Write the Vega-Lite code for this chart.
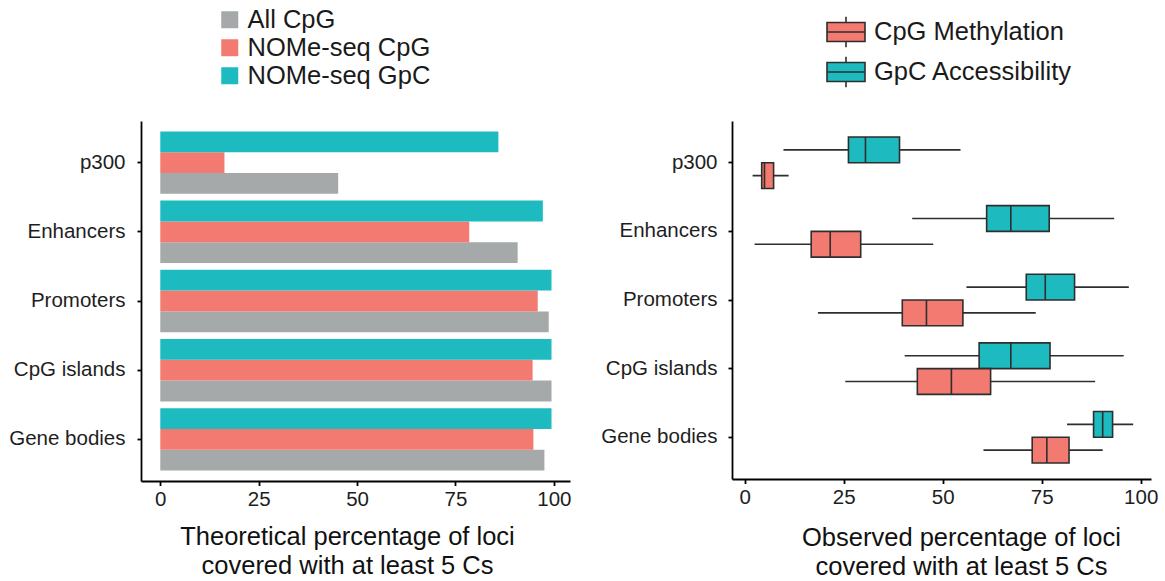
{
  "$schema": "https://vega.github.io/schema/vega-lite/v6.json",
  "background": "white",
  "padding": {"left": 8, "top": 7, "right": 4, "bottom": 2},
  "datasets": {
    "coverage": [
      {"region": "p300", "type": "All CpG", "pct": 45.2},
      {"region": "p300", "type": "NOMe-seq CpG", "pct": 16.3},
      {"region": "p300", "type": "NOMe-seq GpC", "pct": 85.9},
      {"region": "Enhancers", "type": "All CpG", "pct": 90.8},
      {"region": "Enhancers", "type": "NOMe-seq CpG", "pct": 78.5},
      {"region": "Enhancers", "type": "NOMe-seq GpC", "pct": 97.2},
      {"region": "Promoters", "type": "All CpG", "pct": 98.7},
      {"region": "Promoters", "type": "NOMe-seq CpG", "pct": 95.9},
      {"region": "Promoters", "type": "NOMe-seq GpC", "pct": 99.4},
      {"region": "CpG islands", "type": "All CpG", "pct": 99.4},
      {"region": "CpG islands", "type": "NOMe-seq CpG", "pct": 94.6},
      {"region": "CpG islands", "type": "NOMe-seq GpC", "pct": 99.4},
      {"region": "Gene bodies", "type": "All CpG", "pct": 97.6},
      {"region": "Gene bodies", "type": "NOMe-seq CpG", "pct": 94.8},
      {"region": "Gene bodies", "type": "NOMe-seq GpC", "pct": 99.4}
    ],
    "observed": [
      {"region": "p300", "assay": "GpC Accessibility", "low": 9.8, "q1": 26.2, "median": 30.5, "q3": 39.1, "high": 54.5},
      {"region": "p300", "assay": "CpG Methylation", "low": 2.0, "q1": 4.3, "median": 5.0, "q3": 7.3, "high": 11.1},
      {"region": "Enhancers", "assay": "GpC Accessibility", "low": 42.3, "q1": 61.1, "median": 67.2, "q3": 76.9, "high": 93.3},
      {"region": "Enhancers", "assay": "CpG Methylation", "low": 2.5, "q1": 16.8, "median": 21.6, "q3": 29.3, "high": 47.6},
      {"region": "Promoters", "assay": "GpC Accessibility", "low": 56.0, "q1": 71.1, "median": 75.9, "q3": 83.3, "high": 97.0},
      {"region": "Promoters", "assay": "CpG Methylation", "low": 18.5, "q1": 39.8, "median": 45.9, "q3": 55.1, "high": 73.5},
      {"region": "CpG islands", "assay": "GpC Accessibility", "low": 40.4, "q1": 59.2, "median": 67.2, "q3": 77.1, "high": 95.7},
      {"region": "CpG islands", "assay": "CpG Methylation", "low": 25.4, "q1": 43.6, "median": 52.2, "q3": 62.1, "high": 88.5},
      {"region": "Gene bodies", "assay": "GpC Accessibility", "low": 81.4, "q1": 88.1, "median": 90.4, "q3": 92.9, "high": 98.1},
      {"region": "Gene bodies", "assay": "CpG Methylation", "low": 60.3, "q1": 72.6, "median": 76.3, "q3": 81.9, "high": 90.4}
    ]
  },
  "config": {
    "view": {"stroke": null},
    "font": "Liberation Sans",
    "axis": {
      "grid": false,
      "domainColor": "#000000",
      "domainWidth": 1.8,
      "tickColor": "#000000",
      "tickWidth": 1.8,
      "tickSize": 4.5,
      "labelFont": "Liberation Sans",
      "labelFontSize": 20.5,
      "labelColor": "#1e1e1e",
      "titleFont": "Liberation Sans",
      "titleFontSize": 25.5,
      "titleFontWeight": "normal",
      "titleColor": "#111111"
    },
    "legend": {
      "labelFont": "Liberation Sans",
      "labelFontSize": 25.5,
      "labelColor": "#1a1a1a",
      "labelLimit": 0,
      "padding": 0
    }
  },
  "resolve": {
    "scale": {"color": "independent", "fill": "independent", "y": "independent", "yOffset": "independent", "x": "independent"},
    "legend": {"color": "independent", "fill": "independent"}
  },
  "hconcat": [
    {
      "width": 429,
      "height": 360,
      "data": {"name": "coverage"},
      "mark": {"type": "bar"},
      "encoding": {
        "y": {
          "field": "region", "type": "nominal",
          "sort": ["p300", "Enhancers", "Promoters", "CpG islands", "Gene bodies"],
          "scale": {"paddingInner": 0.1, "paddingOuter": 0.15},
          "axis": {"title": null, "labelPadding": 12, "tickSize": 4}
        },
        "yOffset": {
          "field": "type", "type": "nominal",
          "sort": ["NOMe-seq GpC", "NOMe-seq CpG", "All CpG"],
          "scale": {"paddingInner": 0, "paddingOuter": 0}
        },
        "x": {
          "field": "pct", "type": "quantitative",
          "scale": {"domain": [-4.9, 104.1], "nice": false, "zero": false},
          "axis": {
            "values": [0, 25, 50, 75, 100],
            "labelPadding": 4,
            "title": ["Theoretical percentage of loci", "covered with at least 5 Cs"],
            "titleLineHeight": 29,
            "titleBaseline": "alphabetic",
            "titleX": 206,
            "titleY": 63
          }
        },
        "color": {
          "field": "type", "type": "nominal",
          "scale": {"domain": ["All CpG", "NOMe-seq CpG", "NOMe-seq GpC"], "range": ["#A6A9A9", "#F27A71", "#1DBBBF"]},
          "legend": {
            "title": null,
            "orient": "none",
            "legendX": 76,
            "legendY": -114,
            "symbolType": "square",
            "symbolSize": 289,
            "symbolStrokeWidth": 0,
            "rowPadding": 1,
            "labelOffset": 5
          }
        }
      }
    },
    {
      "width": 419,
      "height": 358,
      "data": {"name": "observed"},
      "encoding": {
        "y": {
          "field": "region", "type": "nominal",
          "sort": ["p300", "Enhancers", "Promoters", "CpG islands", "Gene bodies"],
          "scale": {"paddingInner": 0.25, "paddingOuter": 0.234},
          "axis": {"title": null, "labelPadding": 11, "tickSize": 4}
        },
        "yOffset": {
          "field": "assay", "type": "nominal",
          "sort": ["GpC Accessibility", "CpG Methylation"],
          "scale": {"paddingInner": 0, "paddingOuter": 0}
        }
      },
      "layer": [
        {
          "mark": {"type": "rule", "stroke": "#2e2e2e", "strokeWidth": 1.6},
          "encoding": {
            "x": {
              "field": "low", "type": "quantitative",
              "scale": {"domain": [-3.2, 102.6], "nice": false, "zero": false},
              "axis": {
                "values": [0, 25, 50, 75, 100],
                "labelPadding": 4,
                "title": ["Observed percentage of loci", "covered with at least 5 Cs"],
                "titleLineHeight": 29,
                "titleBaseline": "alphabetic",
                "titleX": 229,
                "titleY": 66
              }
            },
            "x2": {"field": "high"}
          }
        },
        {
          "mark": {"type": "bar", "stroke": "#2e2e2e", "strokeWidth": 1.6},
          "encoding": {
            "x": {"field": "q1", "type": "quantitative"},
            "x2": {"field": "q3"},
            "fill": {
              "field": "assay", "type": "nominal",
              "scale": {"domain": ["CpG Methylation", "GpC Accessibility"], "range": ["#F27A71", "#1DBBBF"]},
              "legend": {
                "title": null,
                "orient": "none",
                "legendX": 94,
                "legendY": -109,
                "symbolType": "M-1,-0.5H1V0.5H-1Z M-1,0H1 M0,-0.5V-0.8 M0,0.5V0.8",
                "symbolSize": 1444,
                "rowPadding": 1,
                "labelOffset": 8,
                "symbolStrokeColor": "#2e2e2e",
                "symbolStrokeWidth": 1.6,
                "encode": {"symbols": {"update": {"stroke": {"value": "#2e2e2e"}, "strokeWidth": {"value": 1.6}, "opacity": {"value": 1}}}}
              }
            }
          }
        },
        {
          "mark": {"type": "bar", "stroke": "#2e2e2e", "strokeWidth": 1.6, "fill": "#2e2e2e"},
          "encoding": {
            "x": {"field": "median", "type": "quantitative"},
            "x2": {"field": "median"}
          }
        }
      ]
    }
  ],
  "spacing": 162,
  "bounds": "flush"
}
